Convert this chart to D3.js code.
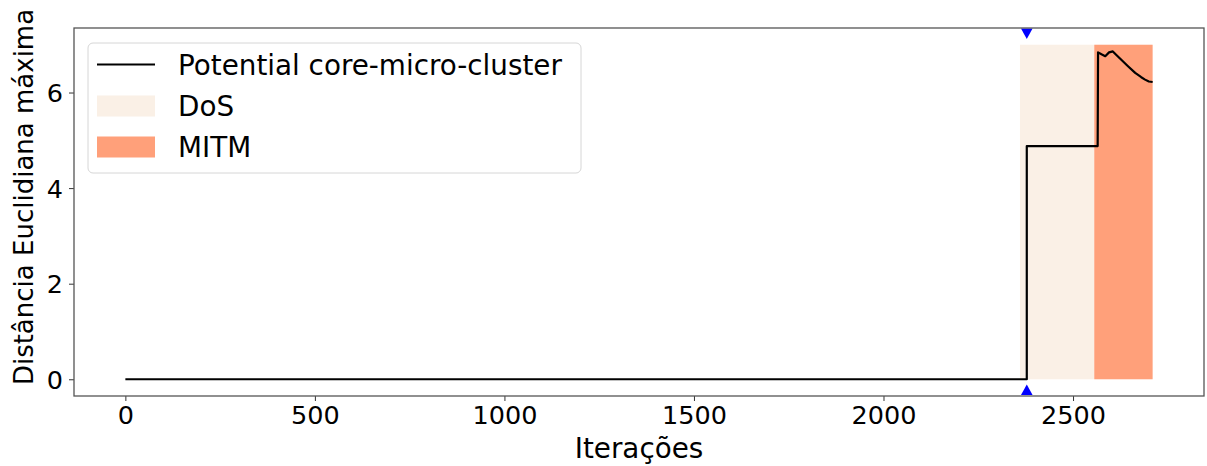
<!DOCTYPE html>
<html>
<head>
<meta charset="utf-8">
<script src="https://cdn.jsdelivr.net/npm/d3@7"></script>
<style>
  html, body { margin: 0; padding: 0; background: #fff; }
  svg { display: block; font-family: "DejaVu Sans", sans-serif; }
</style>
</head>
<body>
<svg id="chart" width="1207" height="466"></svg>
<script>
// Maximum Euclidean distance of the potential core-micro-cluster per iteration
const iterations = [0, 2378, 2378, 2565, 2566, 2575, 2585, 2595, 2605, 2615, 2628, 2645, 2664, 2680, 2690, 2700, 2710];
const distances  = [0, 0, 4.88, 4.88, 6.84, 6.80, 6.76, 6.84, 6.86, 6.78, 6.68, 6.55, 6.41, 6.32, 6.27, 6.23, 6.22];

// Attack windows (iteration ranges) and their shaded height
const attackNames  = ["DoS", "MITM"];
const attackStarts = [2360, 2556];
const attackEnds   = [2556, 2710];
const attackColors = ["linen", "lightsalmon"];
const shadeTop = 7;

// Detection markers at the jump iteration
const detectIter = [2378];
const markerTop = 7.23, markerBottom = -0.22;

const xTicks = [0, 500, 1000, 1500, 2000, 2500];
const yTicks = [0, 2, 4, 6];

const svg = d3.select("#chart");
const plot = { left: 74, right: 1204, top: 28, bottom: 396 };

const x = d3.scaleLinear().domain([-135.5, 2845.5]).range([plot.left, plot.right]);
const y = d3.scaleLinear().domain([-0.35, 7.35]).range([plot.bottom, plot.top]);

// attack spans
svg.append("g").selectAll("rect")
  .data(attackNames.map((n, i) => ({ n, s: attackStarts[i], e: attackEnds[i], c: attackColors[i] })))
  .join("rect")
  .attr("x", d => x(d.s))
  .attr("width", d => x(d.e) - x(d.s))
  .attr("y", y(shadeTop))
  .attr("height", y(0) - y(shadeTop))
  .attr("fill", d => d.c);

// distance line
const line = d3.line().x((d, i) => x(iterations[i])).y(d => y(d));
svg.append("path")
  .datum(distances)
  .attr("d", line)
  .attr("fill", "none")
  .attr("stroke", "#000")
  .attr("stroke-width", 2.2)
  .attr("stroke-linejoin", "round");

// detection markers (triangles centred on their bounding box)
const triDown = "M-5.8,-5.3L5.8,-5.3L0,5.3Z";
const triUp   = "M-5.8,5.3L5.8,5.3L0,-5.3Z";
detectIter.forEach(it => {
  svg.append("path").attr("d", triUp)
    .attr("transform", `translate(${x(it)},${y(markerBottom)})`)
    .attr("fill", "blue");
  svg.append("path").attr("d", triDown)
    .attr("transform", `translate(${x(it)},${y(markerTop)})`)
    .attr("fill", "blue");
});

// axes
const tickFont = "25.5px";
const labelFont = "27.8px";
const fmt = d3.format("d");
const xAxis = svg.append("g")
  .attr("transform", `translate(0,${plot.bottom})`)
  .call(d3.axisBottom(x).tickValues(xTicks).tickFormat(fmt).tickSize(5).tickPadding(5).tickSizeOuter(0));
const yAxis = svg.append("g")
  .attr("transform", `translate(${plot.left},0)`)
  .call(d3.axisLeft(y).tickValues(yTicks).tickFormat(fmt).tickSize(5).tickPadding(6).tickSizeOuter(0));
[xAxis, yAxis].forEach(g => {
  g.select(".domain").remove();
  g.selectAll("line").attr("stroke", "#333").attr("stroke-width", 1);
  g.selectAll("text").attr("font-size", tickFont).attr("fill", "#000")
    .attr("font-family", "DejaVu Sans, sans-serif");
});
yAxis.selectAll("text").attr("dy", "0.36em");

// frame
svg.append("rect")
  .attr("x", plot.left).attr("y", plot.top)
  .attr("width", plot.right - plot.left).attr("height", plot.bottom - plot.top)
  .attr("fill", "none").attr("stroke", "#555").attr("stroke-width", 1.3);

// axis titles
svg.append("text")
  .attr("x", 639).attr("y", 458)
  .attr("text-anchor", "middle").attr("font-size", labelFont)
  .text("Iterações");
svg.append("text")
  .attr("transform", `translate(33,197) rotate(-90)`)
  .attr("text-anchor", "middle").attr("font-size", "26px")
  .text("Distância Euclidiana máxima");

// legend
const legend = svg.append("g");
legend.append("rect")
  .attr("x", 88).attr("y", 43).attr("width", 493).attr("height", 130)
  .attr("rx", 5).attr("fill", "#fff").attr("fill-opacity", 0.8)
  .attr("stroke", "#d6d6d6").attr("stroke-width", 1);
const rows = [
  { label: "Potential core-micro-cluster", type: "line", cy: 64.5 },
  { label: attackNames[0], type: "patch", color: attackColors[0], cy: 106 },
  { label: attackNames[1], type: "patch", color: attackColors[1], cy: 147 }
];
rows.forEach(r => {
  if (r.type === "line") {
    legend.append("line").attr("x1", 97).attr("x2", 155)
      .attr("y1", r.cy).attr("y2", r.cy)
      .attr("stroke", "#000").attr("stroke-width", 2.2);
  } else {
    legend.append("rect").attr("x", 97).attr("y", r.cy - 10.5)
      .attr("width", 58).attr("height", 21).attr("fill", r.color);
  }
  legend.append("text").attr("x", 178).attr("y", r.cy).attr("dy", "0.36em")
    .attr("font-size", labelFont).text(r.label);
});
</script>
</body>
</html>
